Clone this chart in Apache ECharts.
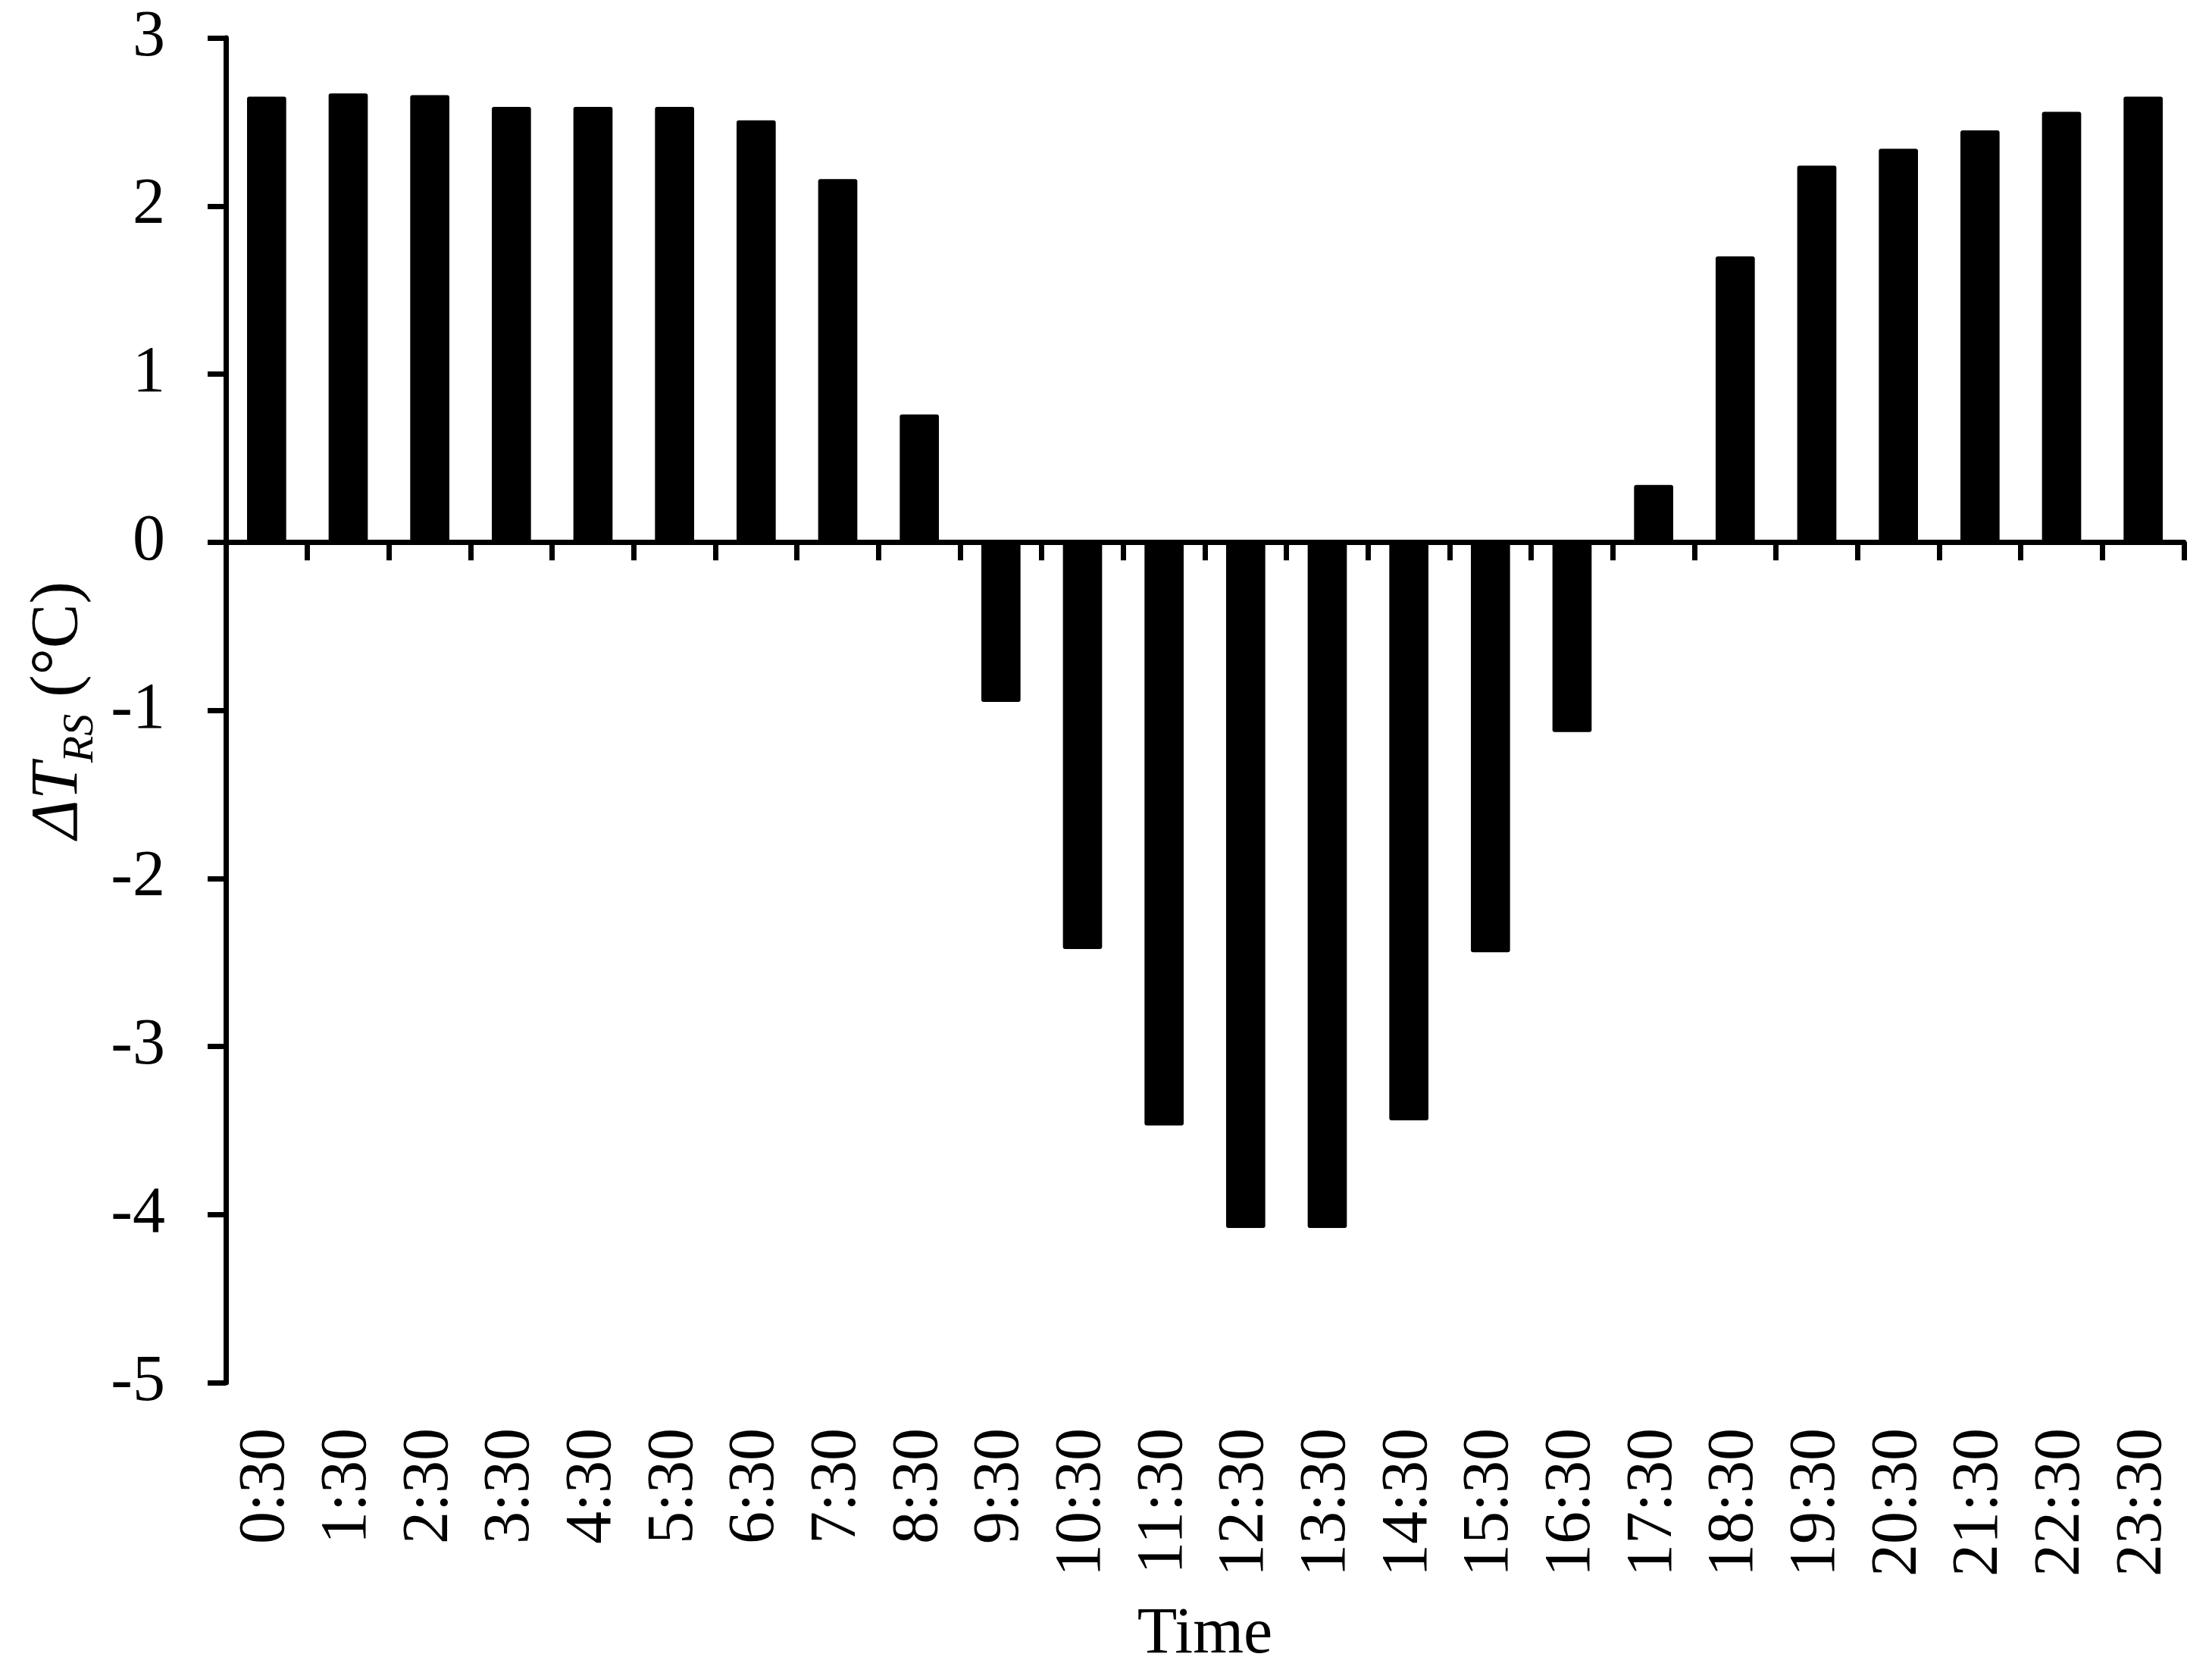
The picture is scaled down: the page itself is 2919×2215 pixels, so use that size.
<!DOCTYPE html>
<html>
<head>
<meta charset="utf-8">
<script src="https://cdn.jsdelivr.net/npm/echarts@6/dist/echarts.min.js"></script>
<style>
  html, body { margin: 0; padding: 0; background: #fff; }
  #main { width: 2919px; height: 2215px; }
</style>
</head>
<body>
<div id="main"></div>
<script>
// time of day (half-hour marks)
const times = ['0:30', '1:30', '2:30', '3:30', '4:30', '5:30', '6:30', '7:30', '8:30', '9:30', '10:30', '11:30',
  '12:30', '13:30', '14:30', '15:30', '16:30', '17:30', '18:30', '19:30', '20:30', '21:30', '22:30', '23:30'];
// ΔT_RS in °C
const deltaT = [2.65, 2.67, 2.66, 2.59, 2.59, 2.59, 2.51, 2.16, 0.76, -0.95, -2.42, -3.47,
  -4.08, -4.08, -3.44, -2.44, -1.13, 0.34, 1.70, 2.24, 2.34, 2.45, 2.56, 2.65];

const font = 'Liberation Serif';
const lineW = 7;

let option = {
  backgroundColor: '#fff',
  animation: false,
  grid: {
    left: 298,
    right: 37,
    top: 50,
    bottom: 391
  },
  xAxis: [
    {
      // labels along the bottom
      type: 'category',
      data: times,
      position: 'bottom',
      axisLine: { show: false, onZero: false },
      axisTick: { show: false },
      axisLabel: {
        interval: 0,
        rotate: 90,
        margin: 60,
        fontFamily: font,
        fontSize: 86,
        color: '#000'
      },
      name: 'Time',
      nameLocation: 'middle',
      nameGap: 290,
      nameTextStyle: { fontFamily: font, fontSize: 86, color: '#000' }
    },
    {
      // the zero line with its ticks
      type: 'category',
      data: times,
      position: 'bottom',
      axisLine: { show: true, onZero: true, lineStyle: { color: '#000', width: lineW } },
      axisTick: { show: true, interval: 0, length: 24, lineStyle: { color: '#000', width: lineW } },
      axisLabel: { show: false }
    }
  ],
  yAxis: {
    type: 'value',
    min: -5,
    max: 3,
    interval: 1,
    splitLine: { show: false },
    axisLine: { show: true, lineStyle: { color: '#000', width: lineW } },
    axisTick: { show: true, length: 24, lineStyle: { color: '#000', width: lineW } },
    axisLabel: {
      margin: 80,
      fontFamily: font,
      fontSize: 86,
      color: '#000'
    },
    name: '{it|ΔT}{sub|RS}{n| (°C)}',
    nameLocation: 'middle',
    nameGap: 175,
    nameTextStyle: {
      fontFamily: font,
      fontSize: 86,
      color: '#000',
      rich: {
        it: { fontFamily: font, fontStyle: 'italic', fontSize: 88, color: '#000', verticalAlign: 'bottom', lineHeight: 90 },
        sub: { fontFamily: font, fontStyle: 'italic', fontSize: 58, color: '#000', verticalAlign: 'bottom', lineHeight: 90, padding: [0, 0, -14, 0] },
        n: { fontFamily: font, fontSize: 88, color: '#000', verticalAlign: 'bottom', lineHeight: 90 }
      }
    }
  },
  series: [
    {
      type: 'bar',
      xAxisIndex: 0,
      data: deltaT,
      barWidth: '48%',
      itemStyle: { color: '#000', borderRadius: 3 }
    }
  ]
};

let myChart = echarts.init(document.getElementById('main'), null, { renderer: 'canvas' });
myChart.setOption(option);
</script>
</body>
</html>
